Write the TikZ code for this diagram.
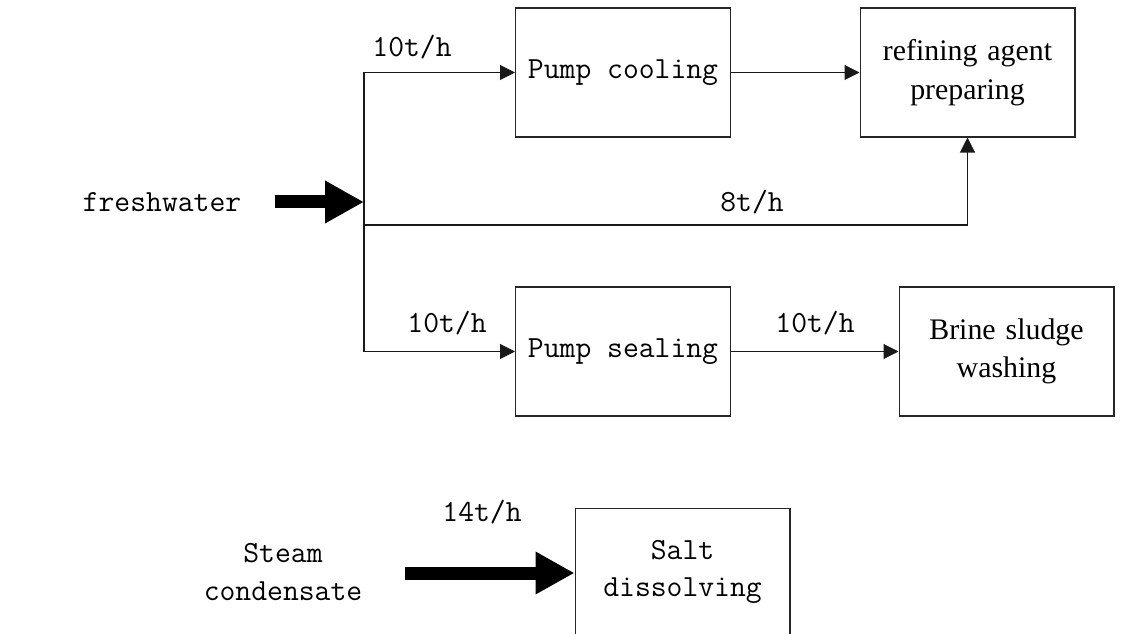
\documentclass[tikz,border=0pt]{standalone}
\usepackage{fontspec}
\setmainfont{Liberation Serif}
\usetikzlibrary{arrows.meta}

\begin{document}
\begin{tikzpicture}[x=.02cm,y=-.02cm,
 mono/.style={font=\ttfamily\fontsize{17.5}{21.5}\selectfont,align=center,inner sep=0pt},
 roman/.style={font=\fontsize{17}{21.5}\selectfont,align=center,inner sep=0pt},
 box/.style={draw=black!85,line width=.6pt,minimum width=4.3cm,minimum height=2.58cm},
 flow/.style={black!90,line width=.6pt,-{Triangle[length=.3cm,width=.3cm]}},
 fat/.style={line width=.26cm,-{Triangle[length=.78cm,width=.8cm]}}]
 \clip (0,0) rectangle (1143,634);
 \node[box,mono] (cool) at (623,72.5) {Pump cooling};
 \node[box,roman,text width=4cm] (refine) at (967.5,72.5) {refining agent\\[1pt]preparing};
 \node[box,mono] (seal) at (623,351.5) {Pump sealing};
 \node[box,roman,text width=4cm] (brine) at (1006.5,351.5) {Brine sludge\\washing};
 \node[box,mono,anchor=north] (salt) at (682.5,508) {};
 \node[mono] (salttext) at (682.5,572) {Salt\\dissolving};
 \node[mono] (fresh) at (162,202) {freshwater};
 \node[mono] (steam) at (283,572) {Steam\\condensate};
 \coordinate (split) at (364,202);
 \draw[fat,shorten <=.66cm] (fresh.east) -- (split);
 \draw[flow] (split) |- (cool.west);
 \draw[flow] (split) |- (seal.west);
 \draw[flow] (split) -- ++(0,23) -| (refine.south);
 \draw[flow] (cool) -- (refine);
 \draw[flow] (seal) -- (brine);
 \draw[fat] (steam.east |- salt.west) ++(42,0) coordinate (steamstart) -- (salt.west);
 \node[mono] (q1) at (412,47) {10t/h};
 \node[mono] (q2) at (752,202) {8t/h};
 \node[mono] (q3) at (447,323) {10t/h};
 \node[mono] (q4) at (815,323) {10t/h};
 \node[mono] (q5) at (482,512) {14t/h};
\end{tikzpicture}
\end{document}
